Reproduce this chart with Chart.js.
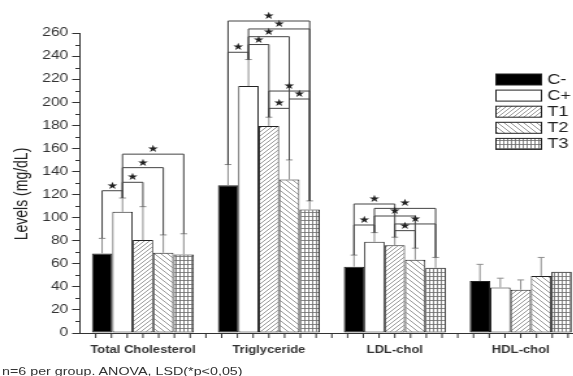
<!DOCTYPE html>
<html><head><meta charset="utf-8">
<script src="https://cdn.jsdelivr.net/npm/chart.js@4/dist/chart.umd.min.js"></script>
<style>
html,body{margin:0;padding:0;background:#fff;overflow:hidden;width:573px;height:376px;}
#wrap{position:absolute;left:0;top:0;width:450px;height:376px;transform:scaleX(1.3);transform-origin:0 0;}
#c{position:absolute;left:0;top:0;}
#note{position:absolute;left:1.5px;top:365px;font:11px "Liberation Sans",Arial,sans-serif;color:#333;white-space:nowrap;}
</style></head><body>
<div id="wrap"><canvas id="c" width="450" height="376"></canvas><div id="note">n=6 per group. ANOVA, LSD(*p&lt;0,05)</div></div>
<script>
// ---- data ----
const categories = ['Total Cholesterol', 'Triglyceride', 'LDL-chol', 'HDL-chol'];
const seriesNames = ['C-', 'C+', 'T1', 'T2', 'T3'];
const valCMinus = [69, 128, 57.5, 45];
const valCPlus  = [105, 214, 79, 39.5];
const valT1     = [80.5, 179.5, 76, 37.5];
const valT2     = [69.5, 133, 63.5, 49.5];
const valT3     = [68, 107, 56.5, 53];
const errCMinus = [13, 18, 10, 14.5];
const errCPlus  = [12, 23, 8, 8];
const errT1     = [29, 7.5, 7, 8.5];
const errT2     = [15.5, 17, 10, 16];
const errT3     = [18, 7.5, 9, 0];
const yMin = 0, yMax = 260, yStep = 20;
const yTitle = 'Levels (mg/dL)';
// significance brackets: category, series a, series b, level (mg/dL)
const brackets = [
  {cat:0, a:0, b:1, at:123.3}, {cat:0, a:1, b:2, at:130.6}, {cat:0, a:1, b:3, at:143.3}, {cat:0, a:1, b:4, at:155},
  {cat:1, a:0, b:1, at:243.3}, {cat:1, a:1, b:2, at:250}, {cat:1, a:1, b:3, at:256.8}, {cat:1, a:1, b:4, at:263.5},
  {cat:1, a:0, b:4, at:270.4}, {cat:1, a:2, b:4, at:209.7}, {cat:1, a:3, b:4, at:202.8}, {cat:1, a:2, b:3, at:194.7},
  {cat:2, a:0, b:1, at:93.6}, {cat:2, a:0, b:2, at:111.8}, {cat:2, a:1, b:4, at:108}, {cat:2, a:1, b:3, at:101.4},
  {cat:2, a:2, b:4, at:94.5}, {cat:2, a:2, b:3, at:88.7}
];
const values = [valCMinus, valCPlus, valT1, valT2, valT3];
const errors = [errCMinus, errCPlus, errT1, errT2, errT3];

// ---- patterns ----
function makePattern(kind){
  const c = document.createElement('canvas');
  const x = c.getContext('2d');
  if (kind === 'fwd' || kind === 'back') {
    const s = kind === 'fwd' ? 4 : 5;
    c.width = s; c.height = s;
    x.fillStyle = '#fff'; x.fillRect(0,0,s,s);
    x.strokeStyle = '#808080'; x.lineWidth = 0.8;
    x.beginPath();
    if (kind === 'fwd') {
      x.moveTo(-1, s+1); x.lineTo(s+1, -1);
      x.moveTo(-1, 1); x.lineTo(1, -1);
      x.moveTo(s-1, s+1); x.lineTo(s+1, s-1);
    } else {
      x.moveTo(-1, -1); x.lineTo(s+1, s+1);
      x.moveTo(s-1, -1); x.lineTo(s+1, 1);
      x.moveTo(-1, s-1); x.lineTo(1, s+1);
    }
    x.stroke();
  } else {
    c.width = 3; c.height = 4;
    x.fillStyle = '#fff'; x.fillRect(0,0,3,4);
    x.strokeStyle = '#6a6a6a'; x.lineWidth = 0.8;
    x.beginPath();
    x.moveTo(0.5, 0); x.lineTo(0.5, 4);
    x.moveTo(0, 0.5); x.lineTo(3, 0.5);
    x.stroke();
  }
  return x.createPattern(c, 'repeat');
}
const fills = ['#000000', '#ffffff', makePattern('fwd'), makePattern('back'), makePattern('grid')];

const FONT = '"Liberation Sans", Arial, sans-serif';

const extras = {
  id: 'extras',
  afterDatasetsDraw(chart){
    const ctx = chart.ctx, ys = chart.scales.y;
    ctx.save();
    // error bars
    ctx.strokeStyle = '#8e8e8e'; ctx.lineWidth = 1;
    chart.data.datasets.forEach((ds, i) => {
      const meta = chart.getDatasetMeta(i);
      meta.data.forEach((bar, j) => {
        const e = errors[i][j];
        if (!e) return;
        const yt = ys.getPixelForValue(values[i][j] + e);
        ctx.beginPath();
        ctx.moveTo(bar.x, bar.y); ctx.lineTo(bar.x, yt);
        ctx.moveTo(bar.x - 2.6, yt); ctx.lineTo(bar.x + 2.6, yt);
        ctx.stroke();
      });
    });
    // brackets
    ctx.strokeStyle = '#444'; ctx.lineWidth = 1;
    ctx.fillStyle = '#222';
    ctx.font = '10px "DejaVu Sans", sans-serif';
    ctx.textAlign = 'center'; ctx.textBaseline = 'middle';
    brackets.forEach(b => {
      const ba = chart.getDatasetMeta(b.a).data[b.cat];
      const bb = chart.getDatasetMeta(b.b).data[b.cat];
      const yl = ys.getPixelForValue(b.at);
      const ya = ys.getPixelForValue(values[b.a][b.cat] + errors[b.a][b.cat]);
      const yb = ys.getPixelForValue(values[b.b][b.cat] + errors[b.b][b.cat]);
      ctx.beginPath();
      ctx.moveTo(ba.x, ya); ctx.lineTo(ba.x, yl); ctx.lineTo(bb.x, yl); ctx.lineTo(bb.x, yb);
      ctx.stroke();
      ctx.fillText('\u2605', (ba.x + bb.x) / 2, yl - 4.5);
    });
    ctx.restore();
  },
  afterDraw(chart){
    const ctx = chart.ctx, ys = chart.scales.y, xs = chart.scales.x, area = chart.chartArea;
    ctx.save();
    ctx.strokeStyle = '#333'; ctx.lineWidth = 1;
    // minor y ticks
    ctx.beginPath();
    for (let v = yMin + yStep/2; v < yMax; v += yStep) {
      const y = Math.round(ys.getPixelForValue(v)) + 0.5;
      ctx.moveTo(area.left - 3.5, y); ctx.lineTo(area.left, y);
    }
    // x ticks (eighths of a category)
    const cw = xs.getPixelForValue(1) - xs.getPixelForValue(0);
    const x0 = xs.getPixelForValue(0) - cw/2;
    for (let k = 1; k <= categories.length * 8; k++) {
      const x = x0 + k * cw / 8;
      ctx.moveTo(x, area.bottom); ctx.lineTo(x, area.bottom + 5);
    }
    ctx.stroke();
    // y title
    ctx.fillStyle = '#222';
    ctx.font = '14px ' + FONT;
    ctx.textAlign = 'center'; ctx.textBaseline = 'middle';
    ctx.translate(17, 194); ctx.rotate(-Math.PI/2);
    ctx.fillText(yTitle, 0, 0);
    ctx.restore();
    // legend
    ctx.save();
    chart.data.datasets.forEach((ds, i) => {
      const cy = 79.5 + 16.1 * i;
      ctx.fillStyle = ds.backgroundColor;
      ctx.fillRect(381.5, cy - 5.5, 35, 11);
      ctx.strokeStyle = '#222'; ctx.lineWidth = 1;
      ctx.strokeRect(381.5, cy - 5.5, 35, 11);
      ctx.fillStyle = '#222';
      ctx.font = '14px ' + FONT;
      ctx.textAlign = 'left'; ctx.textBaseline = 'middle';
      ctx.fillText(ds.label, 421, cy + 0.5);
    });
    ctx.restore();
  }
};

new Chart(document.getElementById('c'), {
  type: 'bar',
  data: {
    labels: categories,
    datasets: seriesNames.map((n, i) => ({
      label: n,
      data: values[i],
      backgroundColor: fills[i],
      borderColor: '#222',
      borderWidth: 1,
      borderSkipped: false,
      categoryPercentage: 0.81,
      barPercentage: 1.0
    }))
  },
  options: {
    responsive: false,
    animation: false,
    layout: { padding: { top: 33, right: 1, left: 0, bottom: 0 } },
    plugins: { legend: { display: false }, tooltip: { enabled: false } },
    scales: {
      x: {
        grid: { display: false, drawTicks: false },
        border: { display: true, color: '#333', width: 1 },
        ticks: { color: '#333', padding: 11, font: { family: FONT, size: 10, weight: 'bold' }, maxRotation: 0, autoSkip: false },
        afterFit(s){ s.height = 43; }
      },
      y: {
        min: yMin, max: yMax,
        ticks: { stepSize: yStep, color: '#333', padding: 3, font: { family: FONT, size: 12 } },
        grid: { drawOnChartArea: false, drawTicks: true, tickLength: 6, tickColor: '#333' },
        border: { display: true, color: '#333', width: 1 },
        afterFit(s){ s.width = 61.5; }
      }
    }
  },
  plugins: [extras]
});
</script>
</body></html>
